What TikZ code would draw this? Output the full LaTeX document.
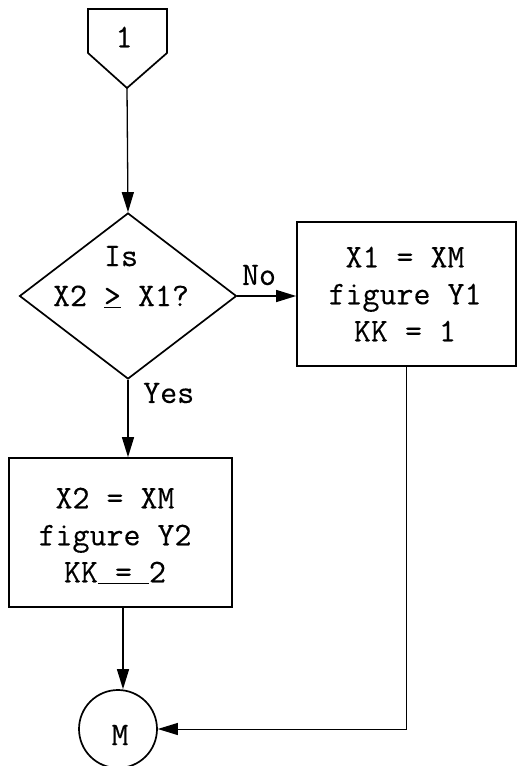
\documentclass[tikz,border=0pt]{standalone}
\usepackage{fontspec}
\newfontfamily\twfont[FakeBold=0.25]{Latin Modern Mono}
\usetikzlibrary{arrows.meta,shapes.geometric,calc}
\begin{document}
\begin{tikzpicture}[x=1pt,y=-1pt,
  txt/.style={font=\fontsize{33}{37}\selectfont\twfont, align=center, inner sep=0pt},
  shp/.style={draw, line width=1.7pt, inner sep=0pt},
  arr/.style={-{Triangle[length=20pt,width=12pt]}, line width=1.3pt}]
\useasboundingbox (0,0) rectangle (518,766);
% off-page connector
\draw[line width=1.7pt, line join=miter] (88,9) -- (167,9) -- (167,53) -- (127,88) -- (88,53) -- cycle;
\coordinate (ptip) at (127,88);
\node[txt] (one) at (124,37) {1};
% decision
\node[shp, diamond, minimum width=217pt, minimum height=166pt] (dia) at (128,296) {};
\node[txt, font=\fontsize{33}{40}\selectfont\twfont] (dtext) at (121,277) {Is\\X2 \underline{>} X1?};
% right box
\node[shp, rectangle, minimum width=219pt, minimum height=144pt] (rbox) at (406.5,294) {};
\node[txt] (rtext) at (405,294) {X1 = XM\\figure Y1\\KK = 1};
% left box
\node[shp, rectangle, minimum width=223pt, minimum height=149pt] (lbox) at (120.5,532.5) {};
\node[txt] (ltext) at (115,536) {X2 = XM\\figure Y2\\KK\underline{\ =\ }2};
% connector circle
\node[shp, circle, minimum size=78pt] (circ) at (118,729) {};
\node[txt] (mtext) at (120,735) {M};
% labels
\node[txt] (no) at (259,275) {No};
\node[txt, anchor=west] (yes) at (143,393) {Yes};
% connectors
\coordinate (cin) at (123,0);
\draw[arr] (ptip) -- (dia.north);
\draw[arr] (dia.east) -- (rbox.west |- dia.east);
\draw[arr] (dia.south) -- (dia.south |- lbox.north);
\draw[arr] (lbox.south -| cin) -- (circ.north -| cin);
\draw[arr, line width=1pt] (rbox.south) |- (circ.east);
\end{tikzpicture}
\end{document}
